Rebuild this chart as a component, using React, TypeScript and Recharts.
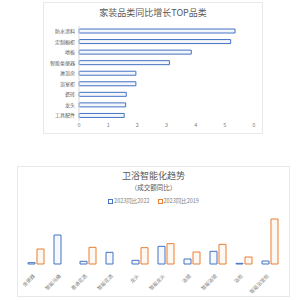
import React from 'react';
import { BarChart, Bar, XAxis, YAxis } from 'recharts';

// top chart: YoY growth of home furnishing categories
const topCategories = ['防水涂料', '定制橱柜', '地板', '智能坐便器', '淋浴房', '浴室柜', '瓷砖', '龙头', '工具配件'];
const topValues = [5.35, 5.2, 3.85, 3.1, 1.95, 1.95, 1.62, 1.6, 1.55];
const topTicks = [0, 1, 2, 3, 4, 5, 6];

// bottom chart: smart bathroom trend (transaction YoY, %)
const bathCategories = ['坐便器', '智能马桶', '普通花洒', '智能花洒', '龙头', '智能龙头', '浴镜', '智能浴镜', '浴柜', '智能浴室柜'];
const vs2022 = [4, 87, 8, 35, 11, 53, 15, 38, 2, 9];
const vs2019 = [45, 0, 50, 0, 49, 61, 36, 59, 21, 135];

const FONT = '"Noto Sans CJK SC", "Noto Sans", sans-serif';
const BLUE = '#4472C4';
const ORANGE = '#ED7D31';

const topData = topCategories.map((name, i) => ({ name, value: topValues[i] }));
const bathData = bathCategories.map((name, i) => ({ name, a: vs2022[i], b: vs2019[i] }));

const RotatedTick = (props: any) => {
  const { x, y, payload } = props;
  return (
    <g transform={`translate(${x - 2},${y + 3})`}>
      <text transform="rotate(-45)" textAnchor="end" fontSize={5} fill="#7f7f7f" fontFamily={FONT} dy={2}>
        {payload.value}
      </text>
    </g>
  );
};

const panel: React.CSSProperties = {
  position: 'absolute',
  border: '1px solid #e8e8e8',
  boxSizing: 'border-box',
  background: '#fff',
};

export default function App() {
  return (
    <div style={{ position: 'absolute', left: 0, top: 0, width: 301, height: 300, background: '#fff', fontFamily: FONT, overflow: 'hidden' }}>
      <div style={{ ...panel, left: 43, top: 2, width: 220, height: 132 }} />
      <div style={{ position: 'absolute', left: 43, top: 6, width: 220, textAlign: 'center', fontSize: 9, color: '#595959', lineHeight: '13px' }}>
        家装品类同比增长TOP品类
      </div>
      <div style={{ position: 'absolute', left: 43, top: 2 }}>
        <BarChart
          width={220}
          height={131}
          data={topData}
          layout="vertical"
          margin={{ top: 24, right: 9, bottom: 0, left: 0 }}
          barSize={4}
        >
          <XAxis
            type="number"
            domain={[0, 6]}
            ticks={topTicks}
            axisLine={false}
            tickLine={false}
            tickSize={2}
            tickMargin={0}
            height={12}
            tick={{ fontSize: 5.5, fill: '#7f7f7f', fontFamily: FONT }}
          />
          <YAxis
            type="category"
            dataKey="name"
            width={36}
            axisLine={{ stroke: '#d9d9d9' }}
            tickLine={false}
            tickSize={2}
            tickMargin={2}
            interval={0}
            tick={{ fontSize: 5, fill: '#595959', fontFamily: FONT }}
          />
          <Bar dataKey="value" fill="#f3f6fb" stroke={BLUE} strokeWidth={1} isAnimationActive={false} />
        </BarChart>
      </div>

      <div style={{ ...panel, left: 17, top: 166, width: 273, height: 131 }} />
      <div style={{ position: 'absolute', left: 17, top: 170, width: 273, textAlign: 'center', fontSize: 9, color: '#595959', lineHeight: '12px' }}>
        卫浴智能化趋势
      </div>
      <div style={{ position: 'absolute', left: 17, top: 183, width: 273, textAlign: 'center', fontSize: 6.5, color: '#595959', lineHeight: '9px' }}>
        （成交额同比）
      </div>
      <div style={{ position: 'absolute', left: 17, top: 198, width: 273, display: 'flex', justifyContent: 'center', gap: 8, fontSize: 5.5, color: '#7f7f7f', lineHeight: '7px' }}>
        <span style={{ display: 'flex', alignItems: 'center', gap: 1 }}>
          <span style={{ width: 3, height: 3, border: `1px solid ${BLUE}`, display: 'inline-block' }} />2023同比2022
        </span>
        <span style={{ display: 'flex', alignItems: 'center', gap: 1 }}>
          <span style={{ width: 3, height: 3, border: `1px solid ${ORANGE}`, display: 'inline-block' }} />2023同比2019
        </span>
      </div>
      <div style={{ position: 'absolute', left: 17, top: 166 }}>
        <BarChart
          width={272}
          height={130}
          data={bathData}
          margin={{ top: 53, right: 6, bottom: 0, left: 6 }}
          barSize={7}
          barGap={2}
        >
          <XAxis
            dataKey="name"
            interval={0}
            axisLine={false}
            tickLine={false}
            height={32}
            tick={<RotatedTick />}
          />
          <YAxis hide domain={[0, 135]} />
          <Bar dataKey="a" fill="#f5f8fd" stroke={BLUE} strokeWidth={1} isAnimationActive={false} />
          <Bar dataKey="b" fill="#fef8f3" stroke={ORANGE} strokeWidth={1} isAnimationActive={false} />
        </BarChart>
      </div>
    </div>
  );
}
